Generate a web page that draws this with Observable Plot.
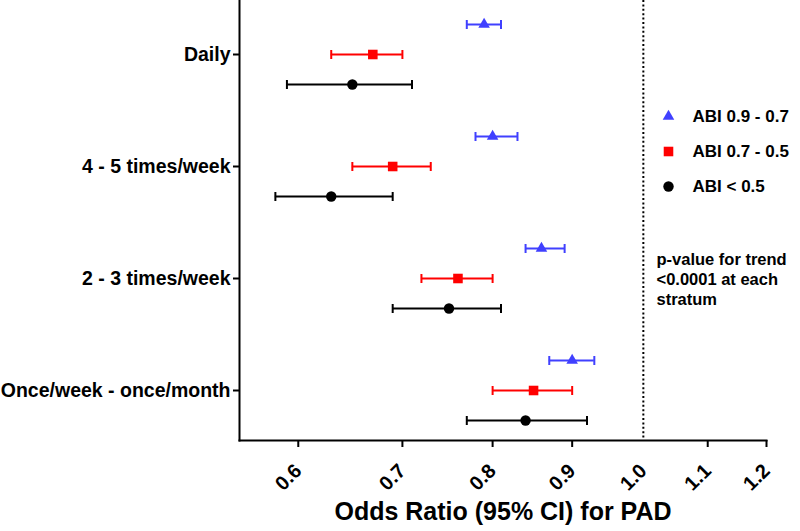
<!DOCTYPE html>
<html><head><meta charset="utf-8">
<script src="https://cdn.jsdelivr.net/npm/d3@7"></script>
<script src="https://cdn.jsdelivr.net/npm/@observablehq/plot@0.6"></script>
<style>
body{margin:0;background:#fff}
svg{font-family:"Liberation Sans",Arial,sans-serif;font-weight:bold}
g[aria-label="x-axis tick label"] text{font-size:20px}
</style>
</head><body><div id="chart"></div>
<script>
// ---- data ----
const categories = ["Daily", "4 - 5 times/week", "2 - 3 times/week", "Once/week - once/month"];
const seriesNames = ["ABI 0.9 - 0.7", "ABI 0.7 - 0.5", "ABI < 0.5"];
const orAbi97 = [0.79, 0.80, 0.86, 0.90];
const loAbi97 = [0.77, 0.78, 0.84, 0.87];
const hiAbi97 = [0.81, 0.83, 0.89, 0.93];
const orAbi75 = [0.67, 0.69, 0.76, 0.85];
const loAbi75 = [0.63, 0.65, 0.72, 0.80];
const hiAbi75 = [0.70, 0.73, 0.80, 0.90];
const orAbi5 = [0.65, 0.63, 0.75, 0.84];
const loAbi5 = [0.59, 0.58, 0.69, 0.77];
const hiAbi5 = [0.71, 0.69, 0.81, 0.92];
const xTicks = [0.6, 0.7, 0.8, 0.9, 1.0, 1.1, 1.2];
const xDomain = [0.55, 1.2];
const refValue = [1.0];
const xLabel = "Odds Ratio (95% CI) for PAD";
const note = "p-value for trend\n<0.0001 at each\nstratum";

// ---- styling ----
const seriesValues = [
  {or: orAbi97, lo: loAbi97, hi: hiAbi97},
  {or: orAbi75, lo: loAbi75, hi: hiAbi75},
  {or: orAbi5, lo: loAbi5, hi: hiAbi5}
];
const styles = [
  {color: "#4040ff", symbol: "triangle", r: 4.3, dy: -30},
  {color: "#ff0000", symbol: "square", r: 5.4, dy: 0},
  {color: "#000000", symbol: "circle", r: 5.2, dy: 30}
];
const capSymbol = {draw(ctx, size) { const h = Math.sqrt(size / Math.PI); ctx.moveTo(0, -h); ctx.lineTo(0, h); }};

const marks = [];
marks.push(Plot.ruleX(refValue, {stroke: "#000", strokeWidth: 2, strokeDasharray: "2,2.4"}));
seriesNames.forEach((name, s) => {
  const st = styles[s];
  const v = seriesValues[s];
  const data = categories.map((c, i) => ({cat: c, or: v.or[i], lo: v.lo[i], hi: v.hi[i]}));
  marks.push(Plot.ruleY(data, {y: "cat", x1: "lo", x2: "hi", dy: st.dy, stroke: st.color, strokeWidth: 2}));
  marks.push(Plot.dot(data, {x: "lo", y: "cat", dy: st.dy, symbol: capSymbol, r: 4.5, stroke: st.color, strokeWidth: 2, fill: "none"}));
  marks.push(Plot.dot(data, {x: "hi", y: "cat", dy: st.dy, symbol: capSymbol, r: 4.5, stroke: st.color, strokeWidth: 2, fill: "none"}));
  marks.push(Plot.dot(data, {x: "or", y: "cat", dy: st.dy, symbol: st.symbol, r: st.r, fill: st.color, stroke: "none"}));
  // legend
  marks.push(Plot.dot([name], {frameAnchor: "top-left", dx: 429, dy: 116 + s * 35, symbol: st.symbol, r: st.r, fill: st.color, stroke: "none"}));
  marks.push(Plot.text([name], {frameAnchor: "top-left", dx: 453, dy: 116 + s * 35, text: d => d, textAnchor: "start", lineAnchor: "middle", fontSize: 17, fill: "#000"}));
});
marks.push(Plot.text([note], {frameAnchor: "top-left", dx: 417, dy: 278, text: d => d, textAnchor: "start", lineAnchor: "middle", fontSize: 16.5, lineHeight: 1.2, fill: "#000"}));
marks.push(Plot.text([xLabel], {frameAnchor: "bottom", dy: 71, text: d => d, lineAnchor: "middle", fontSize: 25, fill: "#000"}));
marks.push(Plot.axisX(xTicks, {tickFormat: d3.format(".1f"), tickRotate: -45, tickSize: 0, tickPadding: 27, fontSize: 20, label: null}));
marks.push(Plot.axisX(xTicks.filter(d => d !== 1), {tickFormat: () => "", tickSize: 7, strokeWidth: 2, label: null}));
marks.push(Plot.axisY({tickSize: 6, tickPadding: 3, fontSize: 19.5, strokeWidth: 2, label: null}));
marks.push(Plot.frame({anchor: "left", strokeWidth: 2}));
marks.push(Plot.frame({anchor: "bottom", strokeWidth: 2}));

const chart = Plot.plot({
  width: 800,
  height: 531,
  marginLeft: 239,
  marginRight: 34,
  marginTop: 0,
  marginBottom: 91,
  x: {type: "log", domain: xDomain, nice: false},
  y: {type: "point", domain: categories, range: [53, 391], padding: 0},
  style: {background: "#fff", color: "#000", overflow: "visible"},
  marks
});
document.getElementById("chart").appendChild(chart);
</script>
</body></html>
